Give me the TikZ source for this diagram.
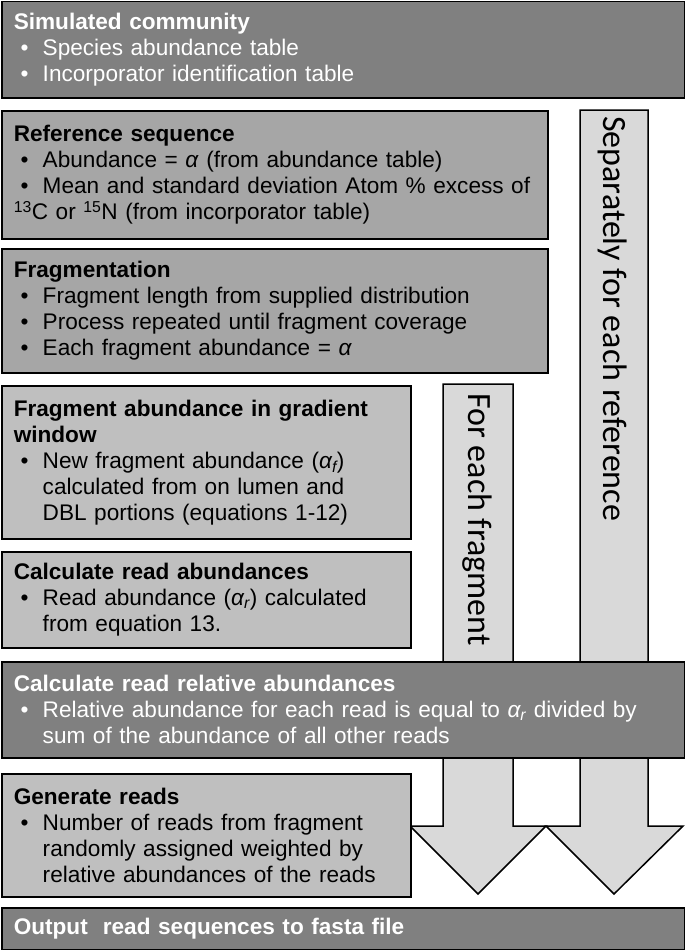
\documentclass[tikz,border=0pt]{standalone}
\usepackage{fontspec}
\setmainfont[WordSpace=0.6]{Liberation Sans}
\newfontfamily\arrowfont{Carlito}
\definecolor{dark}{HTML}{808080}
\definecolor{mid}{HTML}{A6A6A6}
\definecolor{light}{HTML}{BFBFBF}
\definecolor{pale}{HTML}{D9D9D9}
\newcommand\bitem{\par\noindent\makebox[29pt][l]{\hspace{7pt}\textbullet}}
\newcommand\cont{\\\hspace*{29pt}}
\newcommand\al{\textit{α}}
\begin{document}
\begin{tikzpicture}[x=1pt,y=-1pt,
  box/.style={draw=black, line width=1.5pt, anchor=north west, inner xsep=6pt, inner ysep=0pt,
    align=left, font={\fontsize{22.6}{26}\selectfont}, execute at begin node={\leftskip=6pt}},
  darkbox/.style={box, fill=dark, text=white},
  midbox/.style={box, fill=mid, text=black},
  lightbox/.style={box, fill=light, text=black},
  blockarrow/.style={draw=black, line width=1.5pt, fill=pale, line join=miter},
  arrowtext/.style={rotate=-90, anchor=west, inner sep=0pt, font={\arrowfont\fontsize{34}{40}\selectfont}}
]
\useasboundingbox (0,0) rectangle (685,950);
% block arrows (behind the boxes)
\draw[blockarrow] (580,110) -- (648,110) -- (648,826) -- (683,826) -- (614,894) -- (546,826) -- (580,826) -- cycle;
\draw[blockarrow] (443,384) -- (513,384) -- (513,826) -- (546,826) -- (478,894) -- (410,826) -- (443,826) -- cycle;
\node[arrowtext] (sep) at (613,116) {Separately for each reference};
\node[arrowtext] (fef) at (477,393) {For each fragment};
% boxes
\node[darkbox, minimum width=683pt, minimum height=96pt, text width=671pt] (top) at (1,1)
 {\textbf{Simulated community}
  \bitem Species abundance table
  \bitem Incorporator identification table};
\node[midbox, minimum width=546pt, minimum height=128pt, text width=534pt] (ref) at (1,110)
 {\textbf{Reference sequence}
  \bitem Abundance = \al{} (from abundance table)
  \bitem Mean and standard deviation Atom \% excess of\\\textsuperscript{13}C or \textsuperscript{15}N (from incorporator table)};
\node[midbox, minimum width=546pt, minimum height=124pt, text width=534pt] (frag) at (1,248)
 {\textbf{Fragmentation}
  \bitem Fragment length from supplied distribution
  \bitem Process repeated until fragment coverage
  \bitem Each fragment abundance = \al};
\node[lightbox, minimum width=409pt, minimum height=153pt, text width=397pt] (fab) at (1,385)
 {\textbf{Fragment abundance in gradient\\window}
  \bitem New fragment abundance (\textit{α\textsubscript{f}})\cont calculated from on lumen and\cont DBL portions (equations 1-12)};
\node[lightbox, minimum width=409pt, minimum height=96pt, text width=397pt] (cra) at (1,551)
 {\textbf{Calculate read abundances}
  \bitem Read abundance (\textit{α\textsubscript{r}}) calculated\cont from equation 13.};
\node[darkbox, minimum width=683pt, minimum height=96pt, text width=671pt] (crr) at (1,661)
 {\textbf{Calculate read relative abundances}
  \bitem Relative abundance for each read is equal to \textit{α\textsubscript{r}} divided by\cont sum of the abundance of all other reads};
\node[lightbox, minimum width=409pt, minimum height=123pt, text width=397pt] (gen) at (1,773)
 {\textbf{Generate reads}
  \bitem Number of reads from fragment\cont randomly assigned weighted by\cont relative abundances of the reads};
\node[darkbox, minimum width=683pt, minimum height=42pt, text width=671pt] (out) at (1,907)
 {\textbf{Output\ \ read sequences to fasta file}};
\end{tikzpicture}
\end{document}
